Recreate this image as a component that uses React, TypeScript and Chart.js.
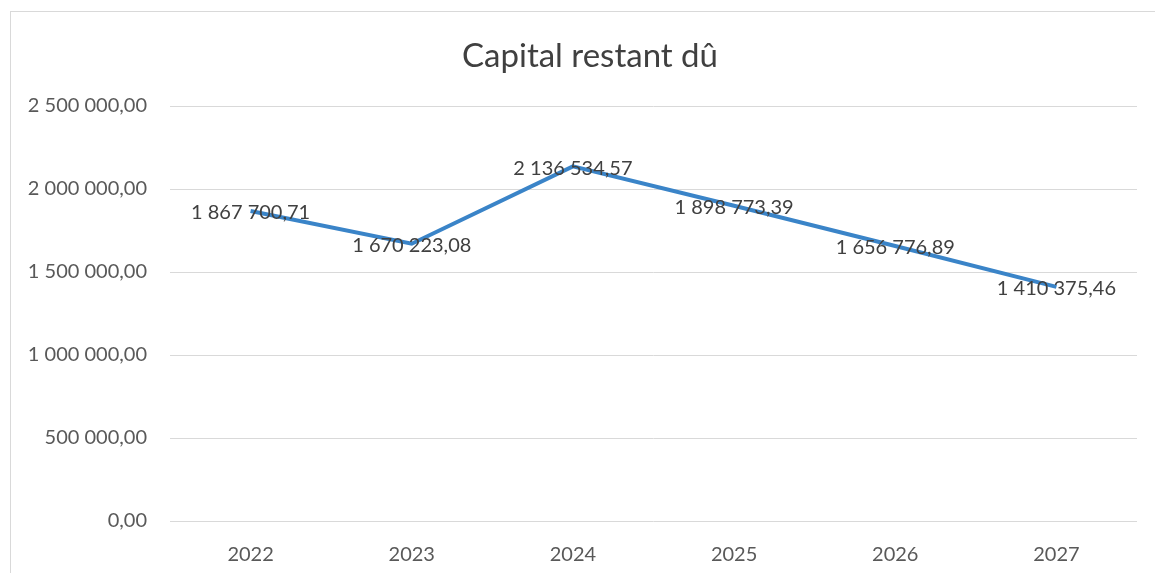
import React, { useEffect, useRef } from "react";
import { Chart, registerables } from "chart.js";

Chart.register(...registerables);

const categories: string[] = ["2022", "2023", "2024", "2025", "2026", "2027"];
const capitalValues: number[] = [1867700.71, 1670223.08, 2136534.57, 1898773.39, 1656776.89, 1410375.46];
const yTickMin = 0;
const yTickMax = 2500000;
const yTickStep = 500000;
const chartTitle = "Capital restant dû";

const FONT = "Lato, 'Noto Sans', sans-serif";

function fmt(n: number): string {
  const [intPart, dec] = Math.abs(n).toFixed(2).split(".");
  const withSpaces = intPart.replace(/\B(?=(\d{3})+(?!\d))/g, " ");
  return (n < 0 ? "-" : "") + withSpaces + "," + dec;
}

const dataLabelPlugin = {
  id: "dataLabels",
  afterDatasetsDraw(chart: any) {
    const ctx = chart.ctx;
    const meta = chart.getDatasetMeta(0);
    const ds = chart.data.datasets[0];
    ctx.save();
    ctx.font = `20px ${FONT}`;
    ctx.fillStyle = "#404040";
    ctx.textAlign = "center";
    ctx.textBaseline = "middle";
    meta.data.forEach((pt: any, i: number) => {
      ctx.fillText(fmt(ds.data[i] as number), pt.x, pt.y + 2);
    });
    ctx.restore();
  },
};

const titlePlugin = {
  id: "customTitle",
  afterDraw(chart: any) {
    const ctx = chart.ctx;
    ctx.save();
    ctx.font = `33px ${FONT}`;
    ctx.fillStyle = "#404040";
    ctx.textAlign = "center";
    ctx.textBaseline = "middle";
    ctx.fillText(chartTitle, 579, 44);
    ctx.restore();
  },
};

export default function App() {
  const ref = useRef<HTMLCanvasElement | null>(null);
  useEffect(() => {
    if (!ref.current) return;
    const chart = new Chart(ref.current, {
      type: "line",
      data: {
        labels: categories,
        datasets: [
          {
            label: chartTitle,
            data: capitalValues,
            borderColor: "#3a84c8",
            backgroundColor: "#3a84c8",
            borderWidth: 4,
            pointRadius: 0,
            tension: 0,
          },
        ],
      },
      options: {
        responsive: false,
        animation: false,
        devicePixelRatio: 1,
        layout: { padding: { left: 0, right: 18, top: 94, bottom: 0 } },
        plugins: {
          legend: { display: false },
          tooltip: { enabled: false },
          title: { display: false },
        },
        scales: {
          x: {
            offset: true,
            grid: { display: false },
            border: { display: false },
            ticks: { color: "#595959", font: { family: FONT, size: 20 }, padding: 14 },
            afterFit: (s: any) => {
              s.height = 52;
            },
          },
          y: {
            min: yTickMin,
            max: yTickMax,
            grid: { color: "#d9d9d9", lineWidth: 1, drawTicks: false },
            border: { display: false },
            ticks: {
              stepSize: yTickStep,
              color: "#595959",
              font: { family: FONT, size: 20 },
              padding: 23,
              callback: (v: any) => fmt(Number(v)),
            },
            afterFit: (s: any) => {
              s.width = 159;
            },
          },
        },
      },
      plugins: [dataLabelPlugin, titlePlugin],
    });
    return () => chart.destroy();
  }, []);
  return (
    <div
      style={{
        position: "absolute",
        left: 10,
        top: 11,
        width: 1145,
        height: 562,
        borderLeft: "1px solid #d9d9d9",
        borderTop: "1px solid #d9d9d9",
        boxSizing: "border-box",
        background: "#fff",
      }}
    >
      <canvas ref={ref} width={1144} height={561} style={{ display: "block" }} />
    </div>
  );
}
